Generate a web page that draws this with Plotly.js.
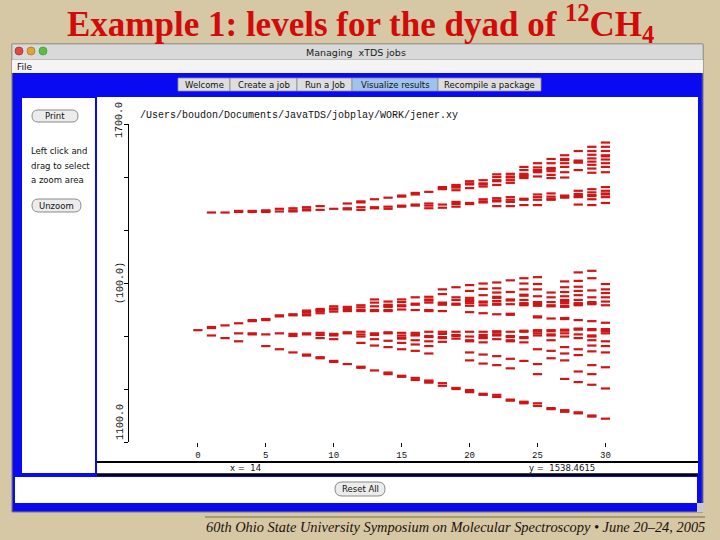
<!DOCTYPE html>
<html><head><meta charset="utf-8">
<script src="https://cdn.plot.ly/plotly-3.0.1.min.js"></script>
<style>html,body{margin:0;padding:0;background:#d6c8a4;}#plot{width:720px;height:540px;}</style>
</head><body><div id="plot"></div>
<script>
// ---- data ----
const jValues = [0,1,2,3,4,5,6,7,8,9,10,11,12,13,14,15,16,17,18,19,20,21,22,23,24,25,26,27,28,29,30];
const xTickValues = [0,5,10,15,20,25,30];
const xTickLabels = ['0','5','10','15','20','25','30'];
const yTickValues = [1100,1200,1300,1400,1500,1600,1700];
const yAxisLabels = ['1700.0','(100.0)','1100.0'];
const filePath = '/Users/boudon/Documents/JavaTDS/jobplay/WORK/jener.xy';
const cursorX = '14';
const cursorY = '1538.4615';

// upper component of the dyad (levels by J)
const nu2Levels = [
  [],
  [1533],
  [1533],
  [1534,1536],
  [1534,1536],
  [1534,1536,1537],
  [1535,1540],
  [1535,1537,1541],
  [1537,1539,1543],
  [1538,1545],
  [1540],
  [1539,1541,1550],
  [1538,1543,1552,1554],
  [1541,1543,1558],
  [1540,1544,1561],
  [1544,1546,1563,1565],
  [1546,1548,1567,1570],
  [1541,1546,1550,1572],
  [1542,1548,1577,1579,1581],
  [1544,1549,1553,1575,1580,1582,1585],
  [1549,1551,1579,1586,1588,1592],
  [1552,1554,1558,1582,1586,1588,1594],
  [1545,1554,1556,1560,1585,1592,1594,1600,1605],
  [1545,1553,1557,1562,1589,1594,1599,1601,1606],
  [1547,1557,1559,1598,1601,1603,1606,1613,1619],
  [1547,1557,1562,1567,1601,1609,1611,1613,1618,1626],
  [1557,1559,1563,1569,1598,1604,1611,1615,1617,1626,1634],
  [1561,1563,1565,1599,1609,1619,1626,1632,1634,1641],
  [1548,1562,1564,1568,1574,1613,1627,1629,1631,1649],
  [1547,1558,1564,1566,1571,1577,1608,1616,1623,1629,1635,1642,1649,1657],
  [1551,1562,1567,1569,1574,1581,1609,1619,1626,1633,1639,1641,1649,1657,1665]
];

// lower component of the dyad (levels by J)
const nu4Levels = [
  [1311],
  [1301,1315,1317],
  [1296,1320],
  [1290,1305,1324],
  [1303,1305,1328,1330],
  [1281,1303,1330,1332],
  [1275,1305,1337,1339],
  [1269,1300,1304,1339,1341],
  [1263,1265,1303,1305,1339,1341,1345,1348],
  [1258,1260,1296,1302,1306,1343,1347,1349,1351],
  [1251,1253,1294,1301,1303,1304,1346,1350,1352,1356],
  [1247,1305,1307,1347,1351,1355],
  [1240,1242,1287,1299,1303,1308,1347,1349,1354,1358],
  [1235,1282,1294,1302,1305,1347,1349,1356,1363,1369],
  [1228,1231,1279,1291,1305,1307,1347,1349,1355,1357,1359,1365],
  [1223,1225,1275,1287,1295,1297,1301,1306,1350,1356,1358,1364,1369],
  [1217,1221,1272,1284,1292,1301,1303,1306,1349,1359,1361,1373],
  [1212,1214,1216,1267,1281,1290,1298,1300,1308,1347,1349,1363,1367,1369,1374],
  [1206,1211,1289,1296,1298,1304,1308,1347,1359,1361,1363,1379,1388],
  [1200,1202,1295,1300,1302,1308,1359,1361,1368,1373,1392],
  [1194,1196,1198,1254,1269,1290,1292,1299,1308,1345,1357,1362,1366,1368,1372,1385,1396],
  [1189,1191,1248,1265,1288,1296,1298,1302,1308,1343,1358,1363,1365,1377,1389,1399],
  [1185,1189,1245,1262,1294,1301,1303,1307,1309,1341,1359,1361,1366,1372,1374,1382,1390,1401],
  [1178,1180,1239,1257,1290,1292,1298,1300,1308,1340,1342,1360,1367,1369,1383,1405],
  [1173,1175,1176,1253,1288,1296,1298,1308,1310,1358,1360,1362,1368,1376,1378,1388,1399,1409],
  [1168,1173,1228,1247,1275,1301,1305,1309,1311,1335,1337,1357,1360,1362,1364,1375,1388,1398,1411],
  [1162,1164,1258,1272,1292,1301,1303,1309,1311,1333,1356,1358,1364,1373,1382],
  [1157,1159,1160,1219,1254,1267,1279,1299,1305,1310,1312,1332,1334,1355,1357,1362,1366,1368,1375,1383,1392,1403],
  [1154,1156,1213,1233,1264,1275,1296,1303,1312,1314,1330,1358,1360,1362,1368,1377,1385,1393,1404,1420],
  [1148,1150,1208,1228,1245,1271,1282,1292,1299,1301,1311,1313,1328,1360,1362,1364,1373,1386,1409,1423],
  [1144,1201,1241,1269,1281,1290,1305,1309,1311,1313,1325,1358,1365,1373,1381,1388,1398]
];

const tabLabels = ['Welcome','Create a job','Run a Job','Visualize results','Recompile a package'];

// ---- helpers ----
const W = 720, H = 540;
const px = x => x / W;
const py = y => 1 - y / H;
function flatten(levels){
  const x = [], y = [];
  levels.forEach((list, i) => list.forEach(e => { x.push(jValues[i]); y.push(e); }));
  return {x, y};
}
function rect(x0, y0, x1, y1, fill, lineColor, lw){
  return {type:'rect', xref:'paper', yref:'paper', layer:'below',
    x0:px(x0), x1:px(x1), y0:py(y1), y1:py(y0),
    fillcolor:fill, line:{color:lineColor||fill, width:lw===undefined?0:lw}};
}
function hline(x0, x1, y, color, lw){
  return {type:'line', xref:'paper', yref:'paper', layer:'below',
    x0:px(x0), x1:px(x1), y0:py(y), y1:py(y), line:{color:color, width:lw}};
}
function circle(cx, cy, r, fill, lineColor){
  return {type:'circle', xref:'paper', yref:'paper', layer:'above',
    x0:px(cx-r), x1:px(cx+r), y0:py(cy+r), y1:py(cy-r),
    fillcolor:fill, line:{color:lineColor, width:0.8}};
}
function P(x, y){ return px(x).toFixed(5) + ',' + py(y).toFixed(5); }
function pill(x0, y0, x1, y1, fill, lineColor){
  const r = (y1 - y0) / 2, m = (y0 + y1) / 2;
  const path = 'M' + P(x0+r, y0) + ' L' + P(x1-r, y0) + ' Q' + P(x1, y0) + ' ' + P(x1, m) +
    ' Q' + P(x1, y1) + ' ' + P(x1-r, y1) + ' L' + P(x0+r, y1) + ' Q' + P(x0, y1) + ' ' + P(x0, m) +
    ' Q' + P(x0, y0) + ' ' + P(x0+r, y0) + ' Z';
  return {type:'path', xref:'paper', yref:'paper', layer:'above', path:path,
    fillcolor:fill, line:{color:lineColor, width:1}};
}
function text(x, y, t, opts){
  opts = opts || {};
  return Object.assign({xref:'paper', yref:'paper', x:px(x), y:py(y), text:t, showarrow:false,
    xanchor:'center', yanchor:'middle',
    font:Object.assign({family:'DejaVu Sans', size:9, color:'#111'}, opts.font||{})},
    opts.extra||{});
}

const up = flatten(nu2Levels), low = flatten(nu4Levels);
const markStyle = {symbol:'line-ew', size:6.6, color:'#cf1515', line:{color:'#cf1515', width:2.2}};
const traces = [
  {type:'scatter', mode:'markers', x:low.x, y:low.y, marker:markStyle, hoverinfo:'x+y', showlegend:false},
  {type:'scatter', mode:'markers', x:up.x, y:up.y, marker:markStyle, hoverinfo:'x+y', showlegend:false}
];

// ---- window chrome ----
const shapes = [
  rect(12, 44, 703, 512, '#2020d8', '#777', 1),      // window frame
  rect(12, 44, 703, 60, '#d9d9d9', '#9a9a9a', 0.8),  // title bar
  rect(12, 60, 703, 73, '#f4f4f4', '#f4f4f4', 0),    // menu bar
  rect(13, 73, 701, 511, '#0a0af2', '#0a0af2', 0),   // blue panel
  rect(22, 98, 95, 473, '#ffffff'),                  // left panel
  rect(97, 97, 698, 474, '#ffffff'),                 // plot panel + status
  rect(15, 477, 697, 503, '#ffffff'),                // bottom area
  hline(97, 698, 462, '#000', 2),
  hline(97, 698, 474.5, '#000', 2.5),
  rect(697, 503, 704, 512, '#c8c8c8'),
  hline(205, 705, 517, '#7d6b45', 1)
];
// tabs
const tabEdges = [178, 230, 297, 352, 438, 541];
for (let i = 0; i < tabLabels.length; i++) {
  shapes.push(rect(tabEdges[i], 78, tabEdges[i+1], 91, i === 3 ? '#9fc2ee' : '#dedede', '#8a8a8a', 0.8));
}
shapes.push(pill(32, 110, 78, 122, '#ececec', '#8a8a8a'));
shapes.push(pill(32, 199, 81, 212, '#ececec', '#8a8a8a'));
shapes.push(pill(335, 482, 385, 496, '#ececec', '#8a8a8a'));
shapes.push(circle(19, 51, 4, '#e2483f', '#a33'));
shapes.push(circle(31, 51, 4, '#e0a52c', '#a73'));
shapes.push(circle(43, 51, 4, '#62b947', '#3a3'));

const annotations = [
  text(360, 24, 'Example 1: levels for the dyad of <sup>12</sup>CH<sub>4</sub>',
    {font:{family:'Liberation Serif', size:35, color:'#d10a0a', weight:'bold'}}),
  text(356, 52, 'Managing  xTDS jobs', {font:{size:9.5, color:'#222'}}),
  text(15, 67, 'File', {font:{size:9, color:'#111'}, extra:{xanchor:'left'}}),
  text(55, 116, 'Print', {font:{size:8.5}}),
  text(29, 151, 'Left click and', {font:{size:8.5}, extra:{xanchor:'left'}}),
  text(29, 166, 'drag to select', {font:{size:8.5}, extra:{xanchor:'left'}}),
  text(29, 180, 'a zoom area', {font:{size:8.5}, extra:{xanchor:'left'}}),
  text(56, 205.5, 'Unzoom', {font:{size:8.5}}),
  text(360, 489, 'Reset All', {font:{size:8.5}}),
  text(228, 468, 'x =  ' + cursorX, {font:{size:8.5}, extra:{xanchor:'left'}}),
  text(527, 468, 'y =  ' + cursorY, {font:{size:8.5}, extra:{xanchor:'left'}}),
  text(138, 115, filePath, {font:{family:'Liberation Mono', size:10, color:'#111'}, extra:{xanchor:'left'}}),
  text(119, 120, yAxisLabels[0], {font:{family:'Liberation Mono', size:10, color:'#111'}, extra:{textangle:-90}}),
  text(120, 283, yAxisLabels[1], {font:{family:'Liberation Mono', size:10, color:'#111'}, extra:{textangle:-90}}),
  text(120, 422, yAxisLabels[2], {font:{family:'Liberation Mono', size:10, color:'#111'}, extra:{textangle:-90}}),
  text(455, 527, '60th Ohio State University Symposium on Molecular Spectroscopy \u2022 June 20\u201324, 2005',
    {font:{family:'Liberation Serif', size:14.4, color:'#1a1208', style:'italic'}})
];
tabLabels.forEach((t, i) => {
  annotations.push(text((tabEdges[i] + tabEdges[i+1]) / 2, 85, t, {font:{size:8.5, color:'#111'}}));
});

const layout = {
  width:W, height:H, margin:{l:0, r:0, t:0, b:0},
  paper_bgcolor:'#d6c8a4', plot_bgcolor:'rgba(0,0,0,0)',
  showlegend:false,
  xaxis:{domain:[129/W, 619/W], range:[-5.07, 31], showgrid:false, zeroline:false, showline:false,
    tickmode:'array', tickvals:xTickValues, ticktext:xTickLabels, ticks:'outside', ticklen:4,
    tickcolor:'#000', tickfont:{family:'Liberation Mono', size:9, color:'#111'}},
  yaxis:{domain:[1-442/H, 1-124/H], range:[1100, 1700], showgrid:false, zeroline:false,
    showline:true, linecolor:'#000', linewidth:1.5, tickmode:'array', tickvals:yTickValues,
    ticks:'outside', ticklen:4, tickcolor:'#000', showticklabels:false},
  shapes:shapes, annotations:annotations
};
Plotly.newPlot('plot', traces, layout, {staticPlot:true, displayModeBar:false});
</script></body></html>
